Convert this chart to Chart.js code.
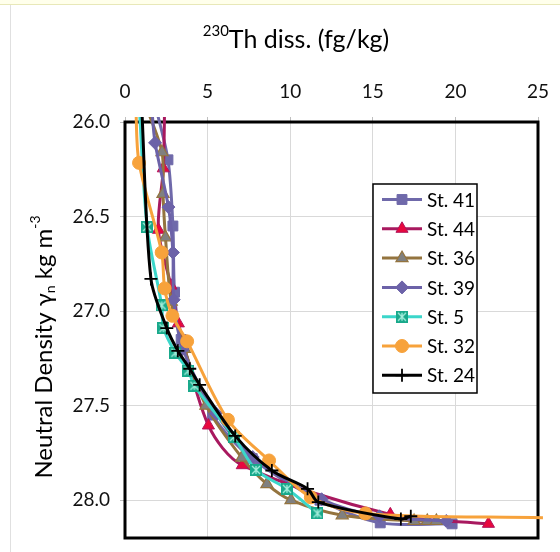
<!DOCTYPE html>
<html>
<head>
<meta charset="utf-8">
<script src="https://cdn.jsdelivr.net/npm/chart.js@4"></script>
<style>
  html, body { margin: 0; padding: 0; background: #fff; }
  #wrap { width: 560px; height: 552px; }
</style>
</head>
<body>
<div id="wrap"><canvas id="thChart" width="560" height="552"></canvas></div>
<script>
// 230Th dissolved vs neutral density, seven stations

// -- Data --
const stations = ['St. 41', 'St. 44', 'St. 36', 'St. 39', 'St. 5', 'St. 32', 'St. 24'];

const th41 = [1.8, 2.6, 2.9, 3.0, 3.4, 5.3, 7.7, 11.8, 15.45, 19.8];
const gn41 = [25.9, 26.2, 26.55, 26.9, 27.15, 27.55, 27.78, 28.0, 28.12, 28.125];

const th44 = [2.4, 2.32, 2.02, 2.78, 3.23, 5.05, 7.1, 16.06, 22.0];
const gn44 = [25.9, 26.245, 26.57, 26.865, 27.065, 27.605, 27.815, 28.075, 28.125];

const th36 = [1.2, 2.24, 2.3, 2.45, 2.8, 3.6, 4.9, 7.07, 8.59, 10.05, 13.15, 17.5, 18.3, 18.85];
const gn36 = [25.9, 26.16, 26.38, 26.61, 26.95, 27.2, 27.5, 27.775, 27.915, 28.0, 28.08, 28.11, 28.11, 28.11];

const th39 = [1.6, 1.82, 2.63, 2.9, 2.95, 3.5, 5.5, 7.73, 11.9, 15.4, 19.45];
const gn39 = [25.9, 26.11, 26.45, 26.69, 26.94, 27.2, 27.54, 27.772, 27.995, 28.085, 28.11];

const th5 = [0.85, 1.34, 2.22, 2.33, 3.05, 3.84, 4.2, 6.6, 7.93, 9.8, 11.65];
const gn5 = [25.9, 26.555, 26.97, 27.09, 27.22, 27.315, 27.395, 27.665, 27.84, 27.94, 28.07];

const th32 = [0.65, 0.85, 2.22, 2.4, 2.87, 3.76, 6.23, 8.72, 11.25, 14.55, 25.3];
const gn32 = [25.9, 26.216, 26.69, 26.88, 27.025, 27.16, 27.575, 27.79, 27.985, 28.07, 28.093];

const th24 = [1.0, 1.57, 2.53, 3.2, 3.92, 4.52, 6.67, 8.89, 11.05, 11.7, 16.7, 17.3];
const gn24 = [25.9, 26.83, 27.09, 27.21, 27.305, 27.39, 27.66, 27.843, 27.94, 28.01, 28.1, 28.085];

const xTicks = [0, 5, 10, 15, 20, 25];
const yTicks = [26.0, 26.5, 27.0, 27.5, 28.0];

// -- Styles --
const FONT = 'Lato, "Open Sans", sans-serif';
const lineColors = ['#6F69AA', '#A8195F', '#94743F', '#6C62A8', '#3BD6CA', '#F7A23B', '#000000'];

// teal square with a light X, used for St. 5
function makeSt5Marker() {
  const c = document.createElement('canvas');
  c.width = 12; c.height = 12;
  const g = c.getContext('2d');
  g.fillStyle = '#19A98B';
  g.fillRect(0, 0, 12, 12);
  g.strokeStyle = '#A6EEDD';
  g.lineWidth = 1.3;
  g.beginPath();
  g.moveTo(2, 2); g.lineTo(10, 10);
  g.moveTo(10, 2); g.lineTo(2, 10);
  g.moveTo(6, 2); g.lineTo(6, 10);
  g.stroke();
  return c;
}

const markers = [
  { pointStyle: 'rect', radius: 7, fill: '#6F69AA', border: '#6F69AA', bw: 1 },
  { pointStyle: 'triangle', radius: 7, fill: '#E8083E', border: '#B0155C', bw: 1 },
  { pointStyle: 'triangle', radius: 7, fill: '#808080', border: '#94743F', bw: 1.2 },
  { pointStyle: 'rectRot', radius: 6.5, fill: '#6C62A8', border: '#6C62A8', bw: 1 },
  { pointStyle: makeSt5Marker(), radius: 6, fill: '#19A98B', border: '#19A98B', bw: 0 },
  { pointStyle: 'circle', radius: 6.5, fill: '#F7A23B', border: '#F7A23B', bw: 1 },
  { pointStyle: 'cross', radius: 6.5, fill: '#000000', border: '#000000', bw: 1.8 }
];

function pairs(xs, ys) {
  return xs.map((x, i) => ({ x: x, y: ys[i] }));
}

const seriesData = [
  pairs(th41, gn41), pairs(th44, gn44), pairs(th36, gn36), pairs(th39, gn39),
  pairs(th5, gn5), pairs(th32, gn32), pairs(th24, gn24)
];

const datasets = stations.map((name, i) => ({
  label: name,
  data: seriesData[i],
  showLine: true,
  borderColor: lineColors[i],
  borderWidth: 3,
  tension: 0.3,
  pointStyle: markers[i].pointStyle,
  pointBackgroundColor: markers[i].fill,
  pointBorderColor: markers[i].border,
  pointBorderWidth: markers[i].bw,
  // markers outside the axis window are not shown
  pointRadius: ctx => (ctx.raw && (ctx.raw.y < 26 || ctx.raw.x > 25)) ? 0 : markers[i].radius,
  pointHoverRadius: markers[i].radius,
  clip: { left: 0, top: 5, right: 5, bottom: 0 },
  order: stations.length - 1 - i
}));

// -- Titles, frame and legend drawn by hand --
const chartDecor = {
  id: 'chartDecor',
  beforeDraw(chart) {
    const ctx = chart.ctx;
    ctx.save();
    ctx.fillStyle = '#FFFFEB';
    ctx.fillRect(0, 0, chart.width, 4);
    ctx.fillStyle = '#E8E8B8';
    ctx.fillRect(0, 4, chart.width, 1);
    ctx.fillStyle = '#E0E0E0';
    ctx.fillRect(10, 5, 1, chart.height - 5);
    ctx.restore();
  },
  beforeDatasetsDraw(chart) {
    const a = chart.chartArea;
    const ctx = chart.ctx;
    ctx.save();
    ctx.strokeStyle = '#000';
    ctx.lineWidth = 3;
    ctx.strokeRect(a.left, a.top, a.right - a.left, a.bottom - a.top);
    ctx.restore();
  },
  afterDatasetsDraw(chart) {
    const ctx = chart.ctx;
    ctx.save();
    ctx.fillStyle = '#000';
    ctx.textBaseline = 'alphabetic';

    // x title with superscript
    const big = '25px ' + FONT, small = '15px ' + FONT;
    ctx.font = small;
    const w1 = ctx.measureText('230').width;
    ctx.font = big;
    const w2 = ctx.measureText('Th diss. (fg/kg)').width;
    let x0 = 296 - (w1 + w2) / 2;
    ctx.font = small;
    ctx.fillText('230', x0, 36);
    ctx.font = big;
    ctx.fillText('Th diss. (fg/kg)', x0 + w1, 48);

    // y title, rotated, with subscript and superscript
    const parts = [
      { t: 'Neutral Density \u03B3', f: '24px ' + FONT, dy: 0 },
      { t: 'n', f: '14px ' + FONT, dy: 3 },
      { t: ' kg m', f: '24px ' + FONT, dy: 0 },
      { t: '-3', f: '14px ' + FONT, dy: -12 }
    ];
    let total = 0;
    parts.forEach(p => { ctx.font = p.f; p.w = ctx.measureText(p.t).width; total += p.w; });
    ctx.translate(52, 347);
    ctx.rotate(-Math.PI / 2);
    let px = -total / 2;
    parts.forEach(p => { ctx.font = p.f; ctx.fillText(p.t, px, p.dy); px += p.w; });
    ctx.restore();

    // legend box
    ctx.save();
    const bx = 373, by = 184, bw = 104, bh = 209;
    ctx.fillStyle = '#fff';
    ctx.fillRect(bx, by, bw, bh);
    ctx.strokeStyle = '#000';
    ctx.lineWidth = 1.5;
    ctx.strokeRect(bx, by, bw, bh);
    ctx.font = '19px ' + FONT;
    ctx.textBaseline = 'middle';
    stations.forEach((name, i) => {
      const y = 199.5 + i * 29.3;
      ctx.strokeStyle = lineColors[i];
      ctx.lineWidth = 3;
      ctx.beginPath();
      ctx.moveTo(382, y);
      ctx.lineTo(422, y);
      ctx.stroke();
      ctx.fillStyle = markers[i].fill;
      ctx.strokeStyle = markers[i].border;
      ctx.lineWidth = markers[i].bw;
      Chart.helpers.drawPoint(ctx, {
        pointStyle: markers[i].pointStyle,
        radius: markers[i].radius,
        borderWidth: markers[i].bw,
        rotation: 0
      }, 402, y);
      ctx.fillStyle = '#000';
      ctx.fillText(name, 427, y + 1);
    });
    ctx.restore();
  }
};

// -- Chart --
const thChart = new Chart(document.getElementById('thChart'), {
  type: 'scatter',
  data: { datasets: datasets },
  options: {
    responsive: false,
    devicePixelRatio: 1,
    animation: false,
    layout: { padding: { left: 0, top: 0, right: 22, bottom: 14 } },
    scales: {
      x: {
        type: 'linear',
        position: 'top',
        min: 0,
        max: 25,
        afterFit: scale => { scale.height = 122; scale.paddingLeft = 0; scale.paddingRight = 0; },
        afterBuildTicks: scale => { scale.ticks = xTicks.map(v => ({ value: v })); },
        grid: { color: '#D9D9D9', lineWidth: 1, tickLength: 5, tickColor: '#BFBFBF' },
        border: { display: false },
        ticks: { color: '#111', padding: 14, font: { family: FONT, size: 19 } }
      },
      y: {
        type: 'linear',
        reverse: true,
        min: 26,
        max: 28.2,
        afterFit: scale => { scale.width = 125; scale.paddingTop = 0; scale.paddingBottom = 0; },
        afterBuildTicks: scale => { scale.ticks = yTicks.map(v => ({ value: v })); },
        grid: { color: '#D9D9D9', lineWidth: 1, tickLength: 5, tickColor: '#BFBFBF' },
        border: { display: false },
        ticks: {
          color: '#111',
          padding: 10,
          font: { family: FONT, size: 19 },
          callback: v => Number(v).toFixed(1)
        }
      }
    },
    plugins: {
      legend: { display: false },
      tooltip: { enabled: false },
      title: { display: false }
    }
  },
  plugins: [chartDecor]
});
</script>
</body>
</html>
